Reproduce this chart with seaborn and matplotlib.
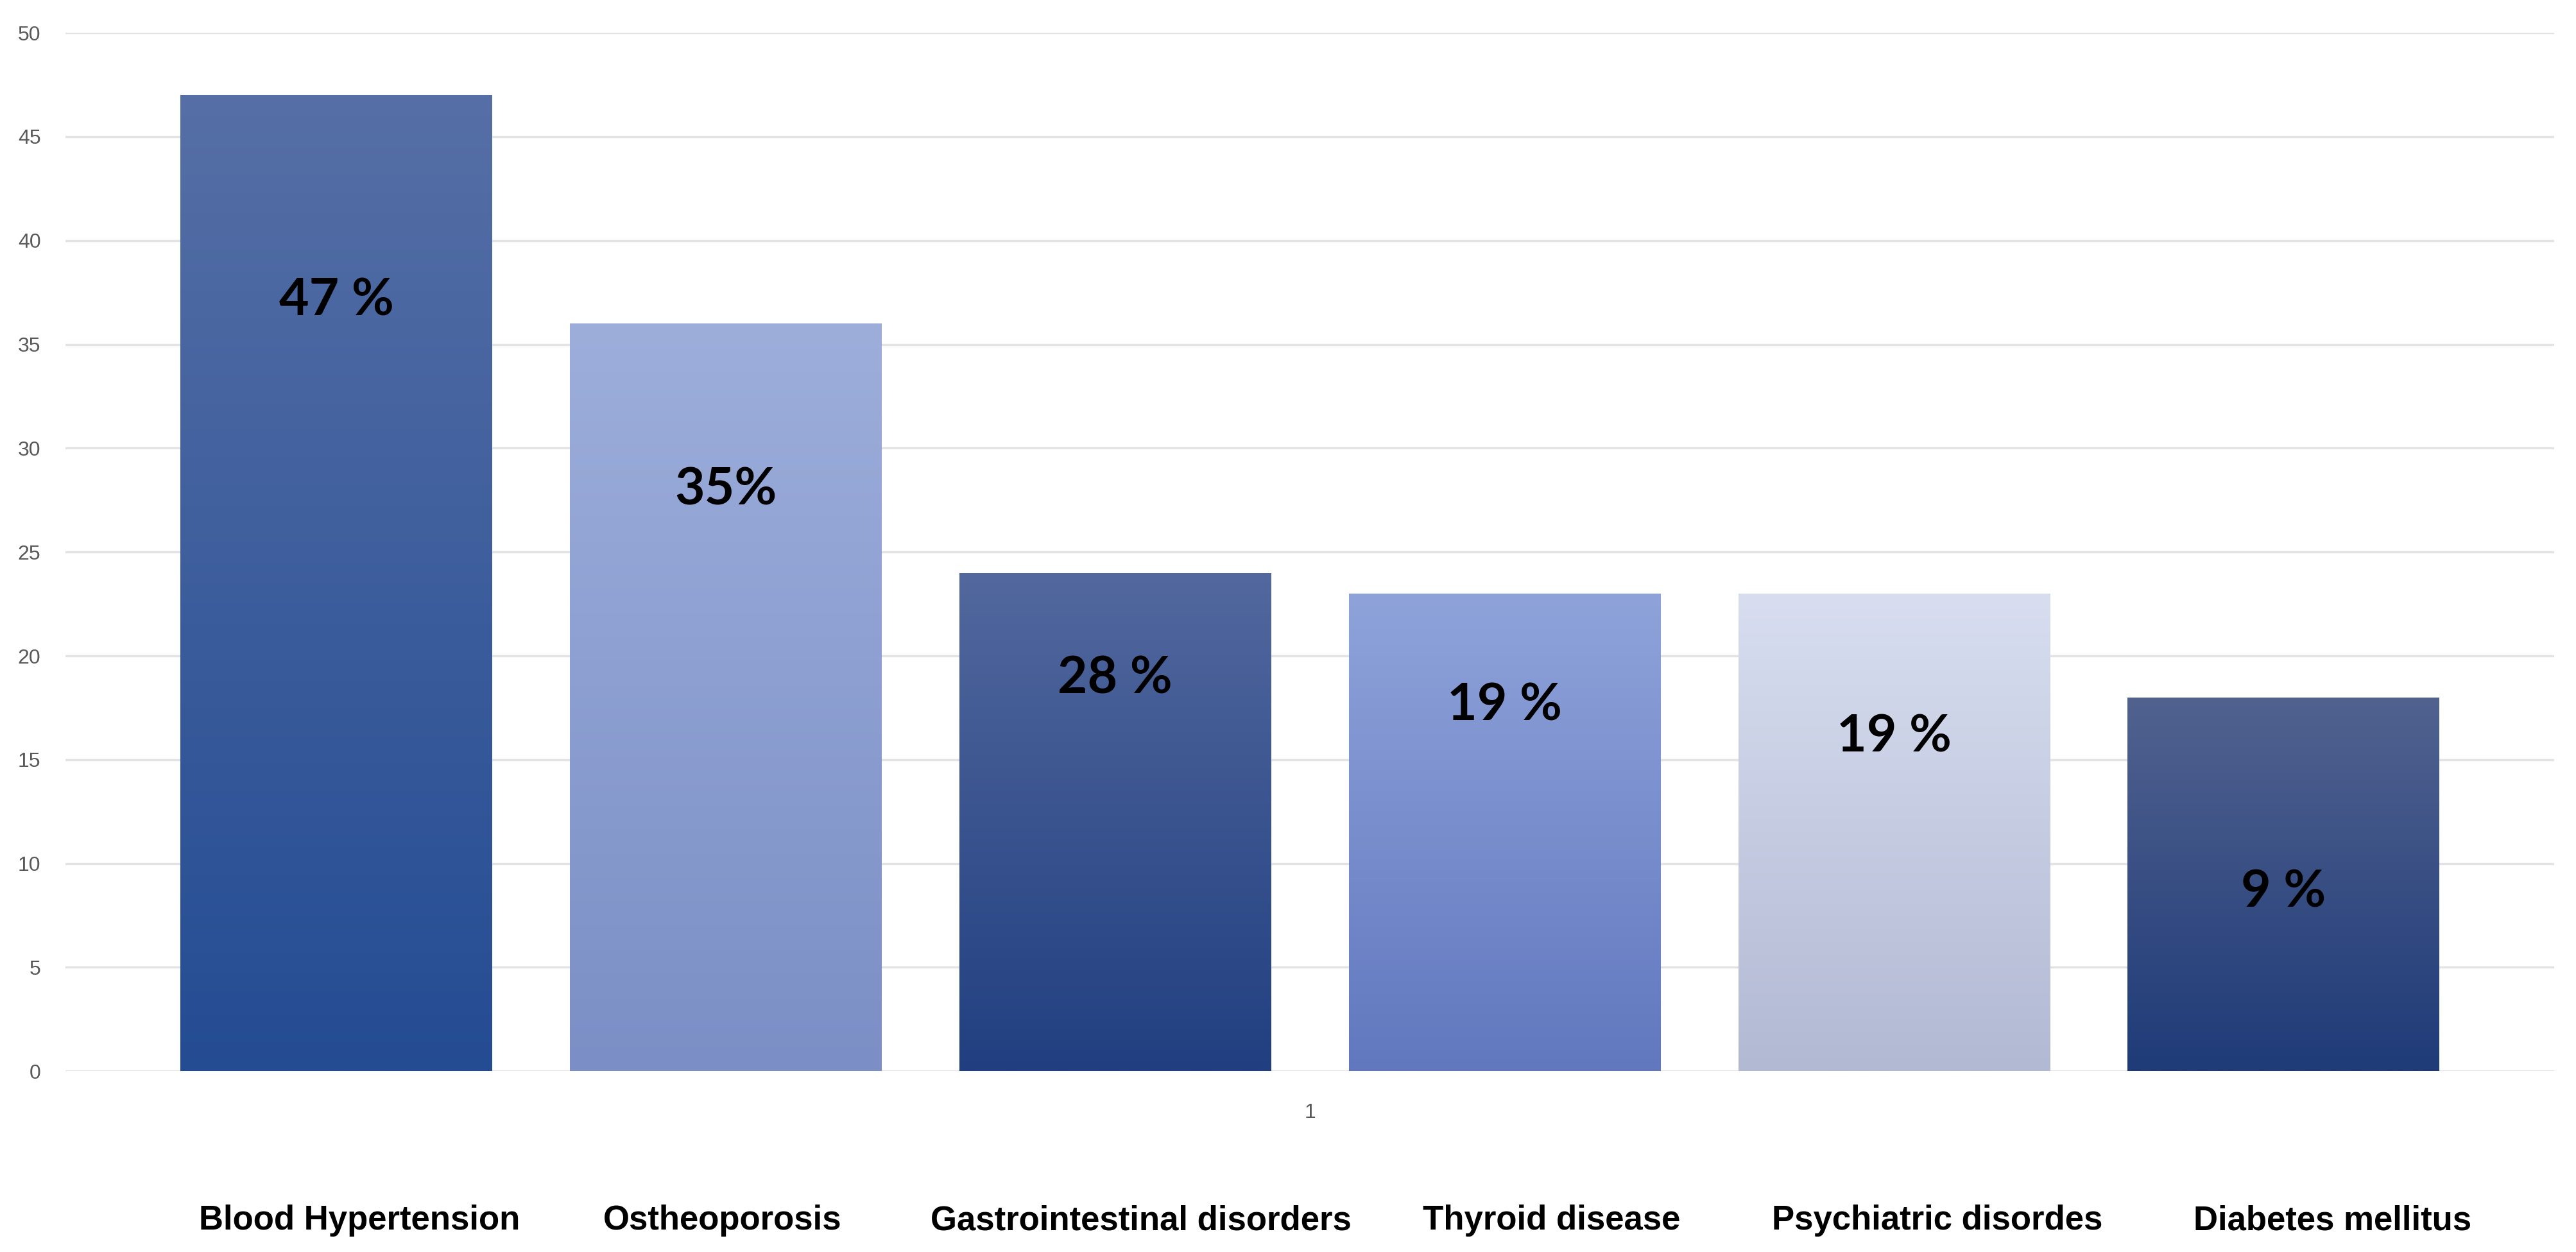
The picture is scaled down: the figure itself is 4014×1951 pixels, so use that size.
import numpy as np
import pandas as pd
import matplotlib
matplotlib.use("Agg")
import matplotlib.pyplot as plt
import matplotlib.colors as mcolors
from matplotlib.transforms import blended_transform_factory
import seaborn as sns

# data
diseases = ["Blood Hypertension", "Ostheoporosis", "Gastrointestinal disorders",
            "Thyroid disease", "Psychiatric disordes", "Diabetes mellitus"]
counts = [47, 36, 24, 23, 23, 18]
pct_labels = ["47 %", "35%", "28 %", "19 %", "19 %", "9 %"]
pct_label_y = [37.1, 28.0, 18.9, 17.6, 16.1, 8.6]
# centres of the category names below the chart (x data units)
name_x = [-0.382, -0.236, -0.068, 0.097, 0.252, 0.411]
group = ["1"] * len(diseases)

# gradient colours (top, bottom) for each bar
top_colors = ["#566fa6", "#9daedb", "#52689e", "#8fa3da", "#d8def0", "#51628f"]
bottom_colors = ["#244c93", "#7b8fc6", "#213f80", "#6178bf", "#b2b9d3", "#1f3b78"]

df = pd.DataFrame({"group": group, "disease": diseases, "count": counts})

sns.set_theme(style="white")
plt.rcParams["font.family"] = ["Liberation Sans", "DejaVu Sans"]

fig = plt.figure(figsize=(40.14, 19.51), dpi=100)
ax = fig.add_axes([0.0255, 0.1444, 0.966, 0.8294])

sns.barplot(data=df, x="group", y="count", hue="disease", hue_order=diseases,
            width=0.939, gap=0.2, legend=False, ax=ax, edgecolor="none",
            palette=bottom_colors, zorder=2)

ax.set_ylim(0, 50)
ax.set_xlim(-0.5, 0.5)
ax.set_yticks(range(0, 51, 5))
ax.yaxis.grid(True, color="#e3e3e3", linewidth=2.5, zorder=0)
ax.set_axisbelow(True)
for s in ax.spines.values():
    s.set_visible(False)
ax.tick_params(axis="y", length=0, labelsize=23, labelcolor="#595959", pad=28)
ax.tick_params(axis="x", length=0, labelsize=23, labelcolor="#595959", pad=36)
ax.set_xlabel("")
ax.set_ylabel("")

# gradient fill clipped to each bar
bars = sorted(ax.patches, key=lambda p: p.get_x())
for p, c_top, c_bot in zip(bars, top_colors, bottom_colors):
    x0, w, h = p.get_x(), p.get_width(), p.get_height()
    t = np.linspace(0, 1, 256).reshape(-1, 1, 1)
    ct = np.array(mcolors.to_rgb(c_top)).reshape(1, 1, 3)
    cb = np.array(mcolors.to_rgb(c_bot)).reshape(1, 1, 3)
    img = cb * (1 - t) + ct * t
    im = ax.imshow(img, extent=[x0, x0 + w, 0, h], origin="lower",
                   aspect="auto", zorder=3, interpolation="bilinear")
    im.set_clip_path(p)

ax.set_xlim(-0.5, 0.5)
ax.set_ylim(0, 50)

# value labels inside bars
for p, lab, ly in zip(bars, pct_labels, pct_label_y):
    ax.text(p.get_x() + p.get_width() / 2, ly, lab, ha="center", va="center",
            fontsize=58, fontweight="bold", color="black", zorder=5,
            family=["Lato", "DejaVu Sans"])

# category names below the axis
trans = blended_transform_factory(ax.transData, fig.transFigure)
for nx, name in zip(name_x, diseases):
    ax.text(nx, 0.025, name, transform=trans,
            ha="center", va="center", fontsize=38, fontweight="bold",
            color="black")

fig.savefig("out.png", dpi=100, facecolor="white")
